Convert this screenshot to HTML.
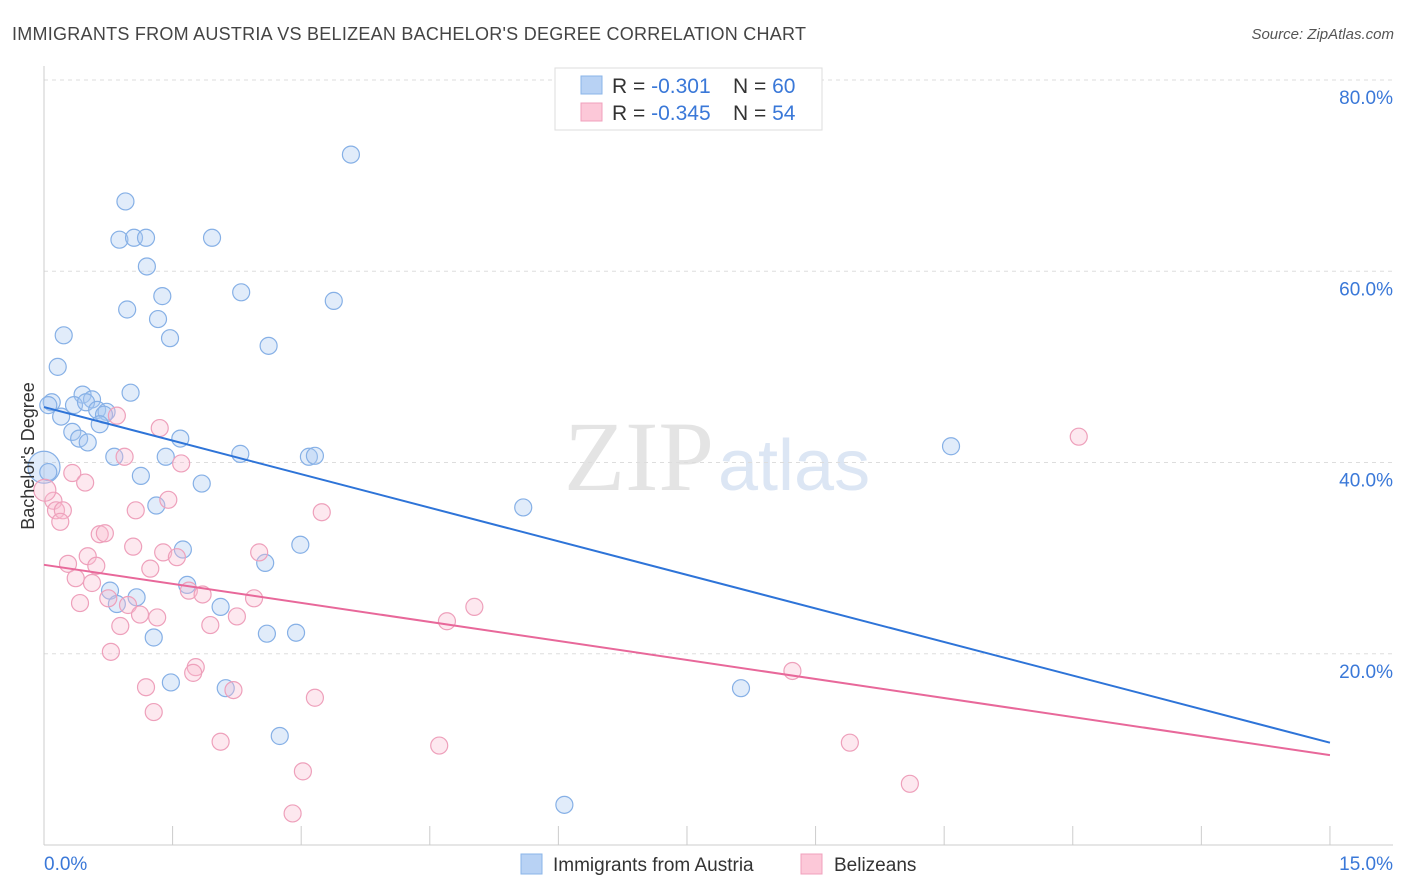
<!DOCTYPE html>
<html><head><meta charset="utf-8"><style>
body{margin:0;background:#fff;font-family:"Liberation Sans",sans-serif;}
svg{display:block}
</style></head><body>
<svg id="chart" width="1406" height="892" xmlns="http://www.w3.org/2000/svg">
<text x="12" y="40" font-size="18" fill="#444" textLength="794">IMMIGRANTS FROM AUSTRIA VS BELIZEAN BACHELOR'S DEGREE CORRELATION CHART</text>
<text x="1394" y="39" font-size="15" fill="#555" font-style="italic" text-anchor="end">Source: ZipAtlas.com</text>
<text x="714" y="490" font-size="100" fill="#e4e4e4" text-anchor="end" font-family="Liberation Serif, serif">ZIP</text>
<text x="718" y="490" font-size="72" fill="#dce6f4">atlas</text>
<g id="grid"></g>
<g id="axes"></g>
<g id="pts"></g>
<g id="trend"></g>
<text transform="translate(34,456) rotate(-90)" font-size="18" fill="#333" text-anchor="middle">Bachelor's Degree</text>
<g>
<rect x="555" y="68" width="267" height="62" fill="#fff" stroke="#ddd"/>
<rect x="581" y="76" width="21" height="18" fill="#b8d2f4" stroke="#8ab4e8"/>
<rect x="581" y="103" width="21" height="18" fill="#fcc8d8" stroke="#f0a0bc"/>
<text x="612" y="93" font-size="21" fill="#333">R = <tspan fill="#3a78d8">-0.301</tspan><tspan x="733">N = </tspan><tspan fill="#3a78d8">60</tspan></text>
<text x="612" y="120" font-size="21" fill="#333">R = <tspan fill="#3a78d8">-0.345</tspan><tspan x="733">N = </tspan><tspan fill="#3a78d8">54</tspan></text>
</g>
<g>
<rect x="521" y="854" width="21" height="20" fill="#b8d2f4" stroke="#8ab4e8"/>
<text x="553" y="871" font-size="19" fill="#333">Immigrants from Austria</text>
<rect x="801" y="854" width="21" height="20" fill="#fcc8d8" stroke="#f0a0bc"/>
<text x="834" y="871" font-size="19" fill="#333">Belizeans</text>
</g>
</svg>
<script>
const yTicks=[20,40,60,80];
const xTickLabels=["0.0%","15.0%"];
const blueX=[3.58,0.95,0.88,1.05,1.19,1.96,1.2,0.97,1.38,2.30,3.38,1.33,0.23,1.47,2.62,0.16,1.01,0.45,0.09,0.05,0.35,0.56,0.49,0.62,0.73,0.70,0.20,0.33,0.41,0.51,0.65,1.59,0.82,1.42,2.29,3.09,3.16,1.13,1.84,1.31,5.59,10.58,1.62,2.99,2.58,0.77,1.08,0.85,1.67,2.06,1.28,2.60,2.94,1.48,2.12,8.13,2.75,6.07,0.0,0.05];
const blueY=[72.2,67.3,63.3,63.5,63.5,63.5,60.5,56.0,57.4,57.8,56.9,55.0,53.3,53.0,52.2,50.0,47.3,47.1,46.3,46.0,46.0,46.6,46.3,45.5,45.3,45.0,44.8,43.2,42.5,42.1,44.0,42.5,40.6,40.6,40.9,40.6,40.7,38.6,37.8,35.5,35.3,41.7,30.9,31.4,29.5,26.6,25.9,25.2,27.2,24.9,21.7,22.1,22.2,17.0,16.4,16.4,11.4,4.2,39.5,39.0];
const pinkX=[0.85,1.35,0.94,1.60,0.33,0.48,0.11,0.14,0.22,0.19,1.45,1.07,3.24,0.65,0.71,1.04,0.51,1.39,1.55,2.51,0.28,0.61,1.24,0.37,0.56,1.69,1.85,2.45,0.42,0.75,0.98,1.12,1.32,2.25,1.94,0.89,5.02,4.70,0.78,1.77,1.74,1.19,2.21,3.16,1.28,2.06,4.61,9.40,3.02,10.1,2.90,12.07,8.73,0.01];
const pinkY=[44.9,43.6,40.6,39.9,38.9,37.9,36.0,35.0,35.0,33.8,36.1,35.0,34.8,32.5,32.6,31.2,30.2,30.6,30.1,30.6,29.4,29.2,28.9,27.9,27.4,26.6,26.2,25.8,25.3,25.8,25.1,24.1,23.8,23.9,23.0,22.9,24.9,23.4,20.2,18.6,18.0,16.5,16.2,15.4,13.9,10.8,10.4,10.7,7.7,6.4,3.3,42.7,18.2,37.1];
const blueTrend=[45.8,10.7];
const pinkTrend=[29.3,9.4];
const NS="http://www.w3.org/2000/svg";
const X=v=>44+v*85.73, Y=v=>845-v*9.5625;
function mk(p,t,a){const e=document.createElementNS(NS,t);for(const k in a)e.setAttribute(k,a[k]);p.appendChild(e);return e;}
const grid=document.getElementById('grid'),axes=document.getElementById('axes'),pts=document.getElementById('pts'),tr=document.getElementById('trend');
yTicks.forEach(v=>{
 const l=mk(grid,'line',{x1:44,x2:1392,y1:Y(v),y2:Y(v),stroke:'#ddd','stroke-dasharray':'4,4'});
 
 
 const t=mk(grid,'text',{x:1393,y:Y(v)+24,'font-size':19,fill:'#3a78d8','text-anchor':'end'});
 t.textContent=v.toFixed(1)+'%';
 
 
});
const la=mk(axes,'line',{x1:44,x2:44,y1:66,y2:845,stroke:'#ccc'});


const lb=mk(axes,'line',{x1:44,x2:1393,y1:845,y2:845,stroke:'#ccc'});


for(let i=0;i<=10;i++){const tk=mk(axes,'line',{x1:X(i*1.5),x2:X(i*1.5),y1:826,y2:845,stroke:'#ccc'});
 
 }
[[xTickLabels[0],44,'start'],[xTickLabels[1],1393,'end']].forEach(([s,x,a])=>{
 const t=mk(axes,'text',{x:x,y:870,'font-size':19,fill:'#3a78d8','text-anchor':a});t.textContent=s;
 
 
});
function dots(xs,ys,fill,stroke,name){xs.forEach((x,i)=>{
 const big=(x<0.02);
 const c=mk(pts,'circle',{cx:X(x),cy:Y(ys[i]),r:big?(name==='austria-point'?16:11):8.5,fill:fill,stroke:stroke,'stroke-width':1.2});
 
 
});}
dots(blueX,blueY,'rgba(170,200,240,0.35)','#86b0e6','austria-point');
dots(pinkX,pinkY,'rgba(250,190,210,0.35)','#eea0bb','belizean-point');
const t1=mk(tr,'line',{x1:X(0),y1:Y(blueTrend[0]),x2:X(15),y2:Y(blueTrend[1]),stroke:'#2e74d8','stroke-width':2});


const t2=mk(tr,'line',{x1:X(0),y1:Y(pinkTrend[0]),x2:X(15),y2:Y(pinkTrend[1]),stroke:'#e8689a','stroke-width':2});


</script>
</body></html>
